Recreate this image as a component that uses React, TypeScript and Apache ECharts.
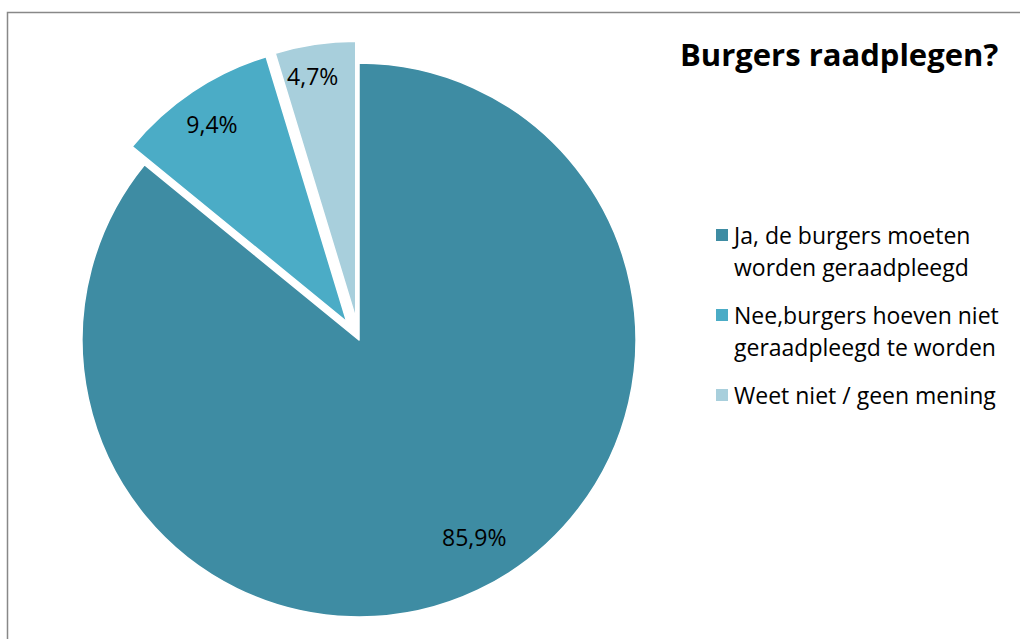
import React, { useEffect, useRef } from "react";
import * as echarts from "echarts";

const title = "Burgers raadplegen?";
const categories = [
  "Ja, de burgers moeten\nworden geraadpleegd",
  "Nee,burgers hoeven niet\ngeraadpleegd te worden",
  "Weet niet / geen mening",
];
const values = [85.9, 9.4, 4.7];
const valueLabels = ["85,9%", "9,4%", "4,7%"];
const exploded = [false, true, true];
const colors = ["#3E8CA3", "#4BACC6", "#A8CFDC"];

export default function App() {
  const ref = useRef<HTMLDivElement>(null);
  useEffect(() => {
    if (!ref.current) return;
    const chart = echarts.init(ref.current, null, { renderer: "svg" });
    const font = "'Open Sans', 'Noto Sans', sans-serif";
    const center = [359, 340];
    const R = 277;
    const labelNudge = [
      [13, -18],
      [-2, 0],
      [-8, -6],
    ];
    const mainData = categories.map((name, i) => ({
      name,
      value: values[i],
      selected: exploded[i],
      itemStyle: { color: colors[i] },
    }));
    const ghostData = categories.map((name, i) => ({
      name,
      value: values[i],
      selected: exploded[i],
      label: { formatter: valueLabels[i] },
    }));
    const iconTops = [228, 308, 388];
    chart.setOption({
      animation: false,
      backgroundColor: "#ffffff",
      title: {
        text: title,
        left: 680,
        top: 38,
        padding: 0,
        textStyle: { fontFamily: font, fontWeight: "bold", fontSize: 31, color: "#000" },
      },
      legend: categories.map((name, i) => {
        const multi = name.indexOf("\n") >= 0;
        return {
          data: [name],
          orient: "vertical",
          left: 714,
          top: multi ? iconTops[i] - 41 : iconTops[i] - 9,
          padding: 0,
          itemWidth: 14,
          itemHeight: 14,
          icon: "rect",
          selectedMode: false,
          formatter: (n: string) => (n.indexOf("\n") >= 0 ? "\n" + n : n),
          textStyle: {
            fontFamily: font,
            fontSize: 23,
            lineHeight: 32,
            color: "#000",
          },
        };
      }),
      graphic: [
        {
          type: "rect",
          shape: { x: 7.5, y: 12.5, width: 1100, height: 700 },
          style: { fill: "none", stroke: "#888888", lineWidth: 1.5 },
          silent: true,
          z: -10,
        },
      ],
      series: [
        {
          type: "pie",
          center,
          radius: [0, R],
          startAngle: 90,
          clockwise: true,
          selectedMode: "multiple",
          selectedOffset: 22,
          silent: true,
          emphasis: { disabled: true },
          itemStyle: { borderColor: "#ffffff", borderWidth: 1.5 },
          label: { show: false },
          labelLine: { show: false },
          data: mainData,
        },
        {
          type: "pie",
          center,
          radius: [R * 0.7, R],
          startAngle: 90,
          clockwise: true,
          selectedMode: "multiple",
          selectedOffset: 22,
          silent: true,
          emphasis: { disabled: true },
          itemStyle: { color: "rgba(0,0,0,0)", borderWidth: 0 },
          label: {
            show: true,
            position: "inside",
            fontFamily: font,
            fontSize: 23,
            color: "#000",
          },
          labelLayout: (p: any) => ({
            dx: labelNudge[p.dataIndex][0],
            dy: labelNudge[p.dataIndex][1],
          }),
          labelLine: { show: false },
          data: ghostData,
        },
      ],
    });
    return () => chart.dispose();
  }, []);
  return (
    <div
      ref={ref}
      style={{ position: "absolute", left: 0, top: 0, width: 1020, height: 639 }}
    />
  );
}
